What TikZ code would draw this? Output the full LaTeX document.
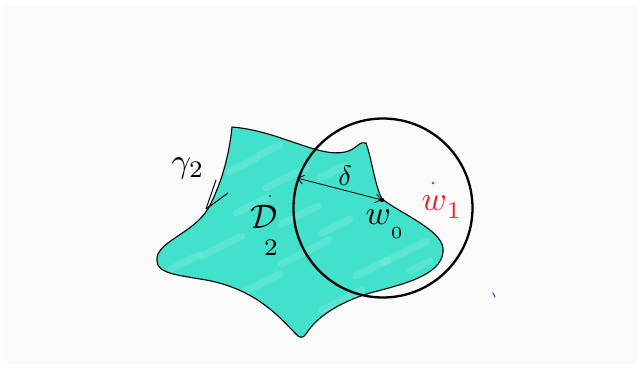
\documentclass[tikz,border=0pt]{standalone}
\usepackage{amsmath}
\usepackage{amssymb}
\usepackage{xcolor}
\usetikzlibrary{arrows.meta}
\definecolor{paper}{RGB}{250,250,250}
\definecolor{blobfill}{RGB}{66,225,203}
\definecolor{blobpale}{RGB}{128,237,223}
\definecolor{inkred}{RGB}{238,34,38}
\definecolor{inkblue}{RGB}{60,100,230}
\begin{document}
\begin{tikzpicture}[x=1pt,y=-1pt,lab/.style={inner sep=0pt}]
  \useasboundingbox (0,0) rectangle (641,369);
  \fill[paper] (4,6) rectangle (637,364);
  \def\blobpath{(232,127) .. controls (280,131) and (318,158) .. (345,152) .. controls (356,150) and (360,140) .. (366,143)
    .. controls (372,160) and (375,186) .. (382,199) .. controls (405,216) and (446,232) .. (443,252)
    .. controls (441,276) and (400,285) .. (370,293) .. controls (337,303) and (316,318) .. (306,334)
    .. controls (303,339) and (299,338) .. (295,333) .. controls (280,318) and (255,287) .. (200,279)
    .. controls (170,274) and (152,272) .. (158,254) .. controls (166,238) and (198,230) .. (210,205)
    .. controls (224,178) and (230,148) .. (232,127) -- cycle}
  \fill[blobfill] \blobpath;
  \begin{scope}
    \clip \blobpath;
    \foreach \x/\y/\l in {185/262/14,222/246/20,252/205/16,262/283/18,305/252/24,336/226/14,342/300/20,372/268/16,405/252/22,243/165/14,286/178/20,332/172/12,420/266/10,300/215/18,270/150/10}
      \draw[blobpale,line width=7pt,line cap=round,opacity=.4] (\x-\l,\y+0.5*\l) -- (\x+\l,\y-0.5*\l);
  \end{scope}
  \draw[line width=1.1pt] \blobpath;
  \coordinate (o) at (383,208);
  \coordinate (w0) at (382,200);
  \coordinate (p) at (297,178);
  \coordinate (gtip) at (206,209);
  \coordinate (w1) at (433,183);
  \draw[line width=2.3pt] (o) circle (89.5);
  \draw[{Straight Barb[length=6pt,width=9pt]}-{Straight Barb[length=6pt,width=9pt]},line width=0.8pt] (p) -- (w0);
  \fill (w0) circle (2.2);
  \draw[line width=1pt] (gtip) -- (216,180);
  \draw[line width=1pt] (gtip) -- (228,193);
  \fill (270,196) circle (0.9);
  \fill[inkred] (w1) circle (1.4);
  \draw[inkblue,line width=1.2pt,line cap=round] (493,293) -- (495,297);
  \node[lab,scale=3.4] (gamma) at (188,168) {$\gamma_2$};
  \node[lab,scale=2.8] (delta) at (345,176) {$\delta$};
  \node[lab,scale=3.4] (dom) at (264,230) {$\mathcal{D}\kern-4pt\raisebox{-8pt}{$\scriptstyle 2$}$};
  \node[lab,scale=3.4] (w0lab) at (384,224) {$w\raisebox{-4.2pt}{$\scriptscriptstyle 0$}$};
  \node[lab,scale=3.4,inkred] (w1lab) at (441,207) {$w\raisebox{-2.4pt}{$\scriptstyle 1$}$};
\end{tikzpicture}
\end{document}
